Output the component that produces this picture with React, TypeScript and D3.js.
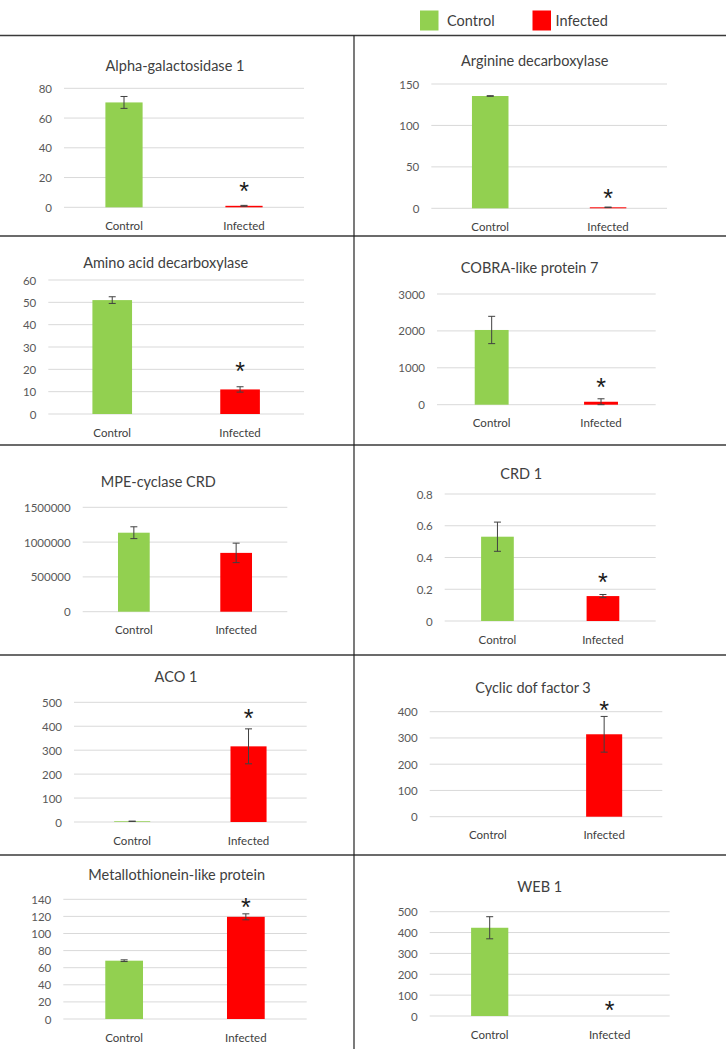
import React from "react";
import * as d3 from "d3";

// ---------- DATA ----------
const categories = ["Control", "Infected"];
const titles = [
  "Alpha-galactosidase 1",
  "Arginine decarboxylase",
  "Amino acid decarboxylase",
  "COBRA-like protein 7",
  "MPE-cyclase CRD",
  "CRD 1",
  "ACO 1",
  "Cyclic dof factor 3",
  "Metallothionein-like protein",
  "WEB 1",
];
const controlMeans = [70.5, 135.5, 51, 2025, 1135000, 0.531, 3, 0, 68.2, 423];
const controlErrors = [4, 0.4, 1.5, 370, 85000, 0.092, 0.5, 0, 1, 53];
const infectedMeans = [1.0, 1.2, 11, 80, 845000, 0.157, 316, 314, 119.5, 0];
const infectedErrors = [0.3, 0.3, 1.2, 80, 140000, 0.01, 73, 68, 3.5, 0];
const yTicks: number[][] = [
  [0, 20, 40, 60, 80],
  [0, 50, 100, 150],
  [0, 10, 20, 30, 40, 50, 60],
  [0, 1000, 2000, 3000],
  [0, 500000, 1000000, 1500000],
  [0, 0.2, 0.4, 0.6, 0.8],
  [0, 100, 200, 300, 400, 500],
  [0, 100, 200, 300, 400],
  [0, 20, 40, 60, 80, 100, 120, 140],
  [0, 100, 200, 300, 400, 500],
];
// significance asterisk (on Infected bar), in data units; null = none
const starValues: (number | null)[] = [13, 17, 21, 580, null, 0.27, 448, 419, 135, 45];
const legendLabels = ["Control", "Infected"];

// ---------- LAYOUT / STYLE ----------
const W = 726;
const H = 1049;
const colors = ["#92D050", "#FF0000"];
const layout = [
  { left: 64, right: 304, top: 88.3, bottom: 207.3, tx: 175, ty: 65 },
  { left: 431.3, right: 667, top: 84, bottom: 208.3, tx: 534.7, ty: 60 },
  { left: 48.3, right: 304, top: 280, bottom: 414, tx: 165.7, ty: 262.7 },
  { left: 437, right: 655.7, top: 294, bottom: 404.7, tx: 529.7, ty: 267.3 },
  { left: 82.7, right: 287.3, top: 507.3, bottom: 611.7, tx: 158.3, ty: 481 },
  { left: 444.7, right: 655.7, top: 494, bottom: 621, tx: 521.3, ty: 473.3 },
  { left: 74, right: 306.7, top: 702.3, bottom: 822, tx: 176, ty: 676.7 },
  { left: 429.7, right: 662.3, top: 711.7, bottom: 816.7, tx: 533, ty: 687.7 },
  { left: 63.3, right: 306.7, top: 899.3, bottom: 1019, tx: 176.7, ty: 874.3 },
  { left: 429.7, right: 669.7, top: 911.7, bottom: 1016, tx: 539.7, ty: 886.7 },
];
const hLines = [35.5, 236, 445, 655, 855];
const vLineX = 354;
const FONT = "Lato, 'Open Sans', sans-serif";
const STAR_FONT = "'Liberation Sans', Arial, sans-serif";
const STAR_SIZE = 25;

function Panel({ i }: { i: number }) {
  const L = layout[i];
  const ticks = yTicks[i];
  const y = d3
    .scaleLinear()
    .domain([0, ticks[ticks.length - 1]])
    .range([L.bottom, L.top]);
  const x = d3
    .scaleBand<string>()
    .domain(categories)
    .range([L.left, L.right])
    .paddingInner(0.69)
    .paddingOuter(0.345);
  const means = [controlMeans[i], infectedMeans[i]];
  const errs = [controlErrors[i], infectedErrors[i]];
  const bw = x.bandwidth();
  const star = starValues[i];
  const starCx = (x("Infected") as number) + bw / 2;
  return (
    <g>
      <text
        x={L.tx}
        y={L.ty}
        textAnchor="middle"
        dominantBaseline="central"
        fontFamily={FONT}
        fontSize={14.5}
        fill="#404040"
      >
        {titles[i]}
      </text>
      {ticks.map((t) => (
        <g key={t}>
          <line
            x1={L.left}
            x2={L.right}
            y1={y(t)}
            y2={y(t)}
            stroke="#D9D9D9"
            strokeWidth={1}
          />
          <text
            x={L.left - 12}
            y={y(t)}
            textAnchor="end"
            dominantBaseline="central"
            fontFamily={FONT}
            fontSize={11.5}
            fill="#595959"
          >
            {String(t)}
          </text>
        </g>
      ))}
      {categories.map((c, k) => {
        const x0 = x(c) as number;
        const cx = x0 + bw / 2;
        const v = means[k];
        const e = errs[k];
        return (
          <g key={c}>
            {v > 0 && (
              <rect
                x={x0}
                y={y(v)}
                width={bw}
                height={L.bottom - y(v)}
                fill={colors[k]}
              />
            )}
            {v > 0 && e > 0 && (
              <g stroke="#404040" strokeWidth={1}>
                <line x1={cx} x2={cx} y1={y(v + e)} y2={y(Math.max(0, v - e))} />
                <line x1={cx - 3.5} x2={cx + 3.5} y1={y(v + e)} y2={y(v + e)} />
                <line
                  x1={cx - 3.5}
                  x2={cx + 3.5}
                  y1={y(Math.max(0, v - e))}
                  y2={y(Math.max(0, v - e))}
                />
              </g>
            )}
            <text
              x={cx}
              y={L.bottom + 18}
              textAnchor="middle"
              dominantBaseline="central"
              fontFamily={FONT}
              fontSize={11.5}
              fill="#404040"
            >
              {c}
            </text>
          </g>
        );
      })}
      {star !== null && (
        <text
          x={starCx}
          y={y(star) + STAR_SIZE * 0.5}
          textAnchor="middle"
          fontFamily={STAR_FONT}
          fontSize={STAR_SIZE}
          fill="#1a1a1a"
        >
          *
        </text>
      )}
    </g>
  );
}

export default function App() {
  return (
    <svg
      width={W}
      height={H}
      style={{ position: "absolute", left: 0, top: 0, background: "#fff" }}
    >
      <rect x={0} y={0} width={W} height={H} fill="#fff" />
      {/* legend */}
      {legendLabels.map((l, k) => (
        <g key={l}>
          <rect x={420 + k * 112.5} y={10.5} width={18.5} height={20} fill={colors[k]} />
          <text
            x={447 + k * 108.5}
            y={20.5}
            dominantBaseline="central"
            fontFamily={FONT}
            fontSize={14.5}
            fill="#404040"
          >
            {l}
          </text>
        </g>
      ))}
      {hLines.map((yy) => (
        <line key={yy} x1={0} x2={W} y1={yy} y2={yy} stroke="#3a3a3a" strokeWidth={1.6} />
      ))}
      <line x1={vLineX} x2={vLineX} y1={35.5} y2={H} stroke="#222" strokeWidth={1.2} />
      {titles.map((_, i) => (
        <Panel key={i} i={i} />
      ))}
    </svg>
  );
}
